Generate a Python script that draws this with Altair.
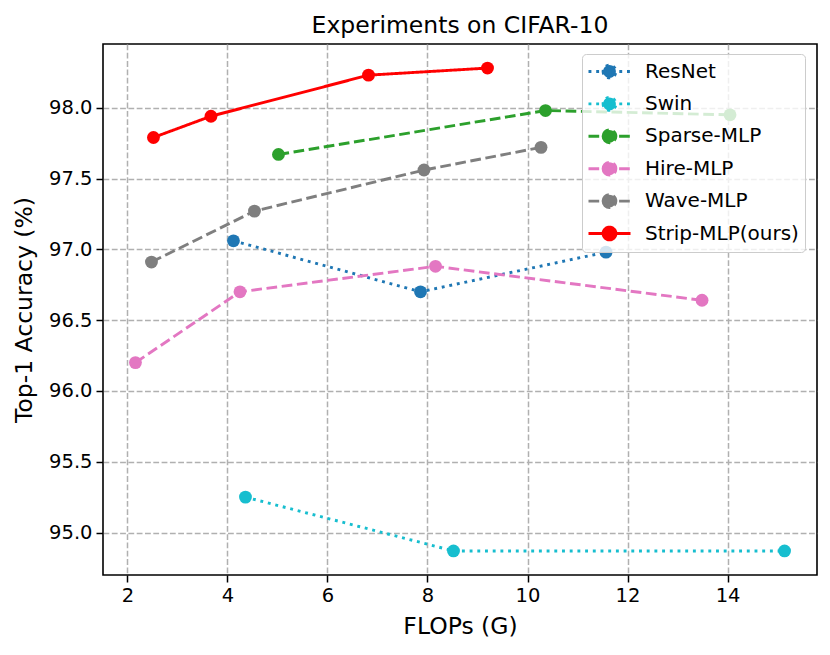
import altair as alt
import pandas as pd

models = ["ResNet", "Swin", "Sparse-MLP", "Hire-MLP", "Wave-MLP", "Strip-MLP(ours)"]
colors = ["#1f77b4", "#17becf", "#2ca02c", "#e377c2", "#7f7f7f", "#ff0000"]
dashes = [[2.9, 4.8], [2.9, 4.8], [10.7, 4.6], [10.7, 4.6], [10.7, 4.6], [1, 0]]

resnet_flops = [4.12, 7.86, 11.57]
resnet_acc = [97.06, 96.70, 96.98]
swin_flops = [4.36, 8.52, 15.14]
swin_acc = [95.25, 94.87, 94.87]
sparse_flops = [5.02, 10.36, 14.05]
sparse_acc = [97.67, 97.98, 97.95]
hire_flops = [2.16, 4.25, 8.16, 13.49]
hire_acc = [96.20, 96.70, 96.88, 96.64]
wave_flops = [2.48, 4.54, 7.93, 10.27]
wave_acc = [96.91, 97.27, 97.56, 97.72]
strip_flops = [2.52, 3.67, 6.82, 9.20]
strip_acc = [97.79, 97.94, 98.23, 98.28]

x_ticks = [2, 4, 6, 8, 10, 12, 14]
y_ticks = [95.0, 95.5, 96.0, 96.5, 97.0, 97.5, 98.0]

series = [
    ("ResNet", resnet_flops, resnet_acc),
    ("Swin", swin_flops, swin_acc),
    ("Sparse-MLP", sparse_flops, sparse_acc),
    ("Hire-MLP", hire_flops, hire_acc),
    ("Wave-MLP", wave_flops, wave_acc),
    ("Strip-MLP(ours)", strip_flops, strip_acc),
]
rows = []
for name, fx, ay in series:
    for f, a in zip(fx, ay):
        rows.append({"model": name, "flops": f, "acc": a})
df = pd.DataFrame(rows)

FONT = "DejaVu Sans"
# legend glyph: line with a dot in its middle (unit = sqrt(symbolSize)/2 px)
sym_path = ("M-2.1,0L2.1,0M-0.64,0A0.64,0.64,0,1,0,0.64,0"
            "A0.64,0.64,0,1,0,-0.64,0Z")

xenc = alt.X("flops:Q",
             scale=alt.Scale(domain=[1.511, 15.789], nice=False, zero=False),
             axis=alt.Axis(values=x_ticks, format="d", title="FLOPs (G)",
                           labelPadding=4, titlePadding=10))
yenc = alt.Y("acc:Q",
             scale=alt.Scale(domain=[94.70, 98.45], nice=False, zero=False),
             axis=alt.Axis(values=y_ticks, format=".1f",
                           title="Top-1 Accuracy (%)",
                           labelPadding=4, titlePadding=12))

legend = alt.Legend(
    title=None, orient="none", legendX=479, legendY=10,
    symbolType=sym_path, symbolSize=400, symbolStrokeWidth=2.9,
    symbolOpacity=1, symbolOffset=10,
    labelFont=FONT, labelFontSize=20, labelColor="black",
    labelOffset=24, rowPadding=7.4, padding=6,
    fillColor="rgba(255,255,255,0.8)", strokeColor="#cccccc",
    cornerRadius=4,
)

cscale = alt.Scale(domain=models, range=colors)

lines = alt.Chart(df).mark_line(strokeWidth=2.9).encode(
    x=xenc, y=yenc,
    color=alt.Color("model:N", scale=cscale, legend=legend),
    strokeDash=alt.StrokeDash("model:N",
                              scale=alt.Scale(domain=models, range=dashes),
                              legend=legend),
    order="flops:Q",
)
points = alt.Chart(df).mark_point(filled=True, size=165, opacity=1).encode(
    x=xenc, y=yenc,
    color=alt.Color("model:N", scale=cscale, legend=legend),
)

chart = alt.layer(lines, points).properties(
    width=714, height=531,
    background="white",
    title=alt.Title("Experiments on CIFAR-10", font=FONT, fontSize=23.5,
                    fontWeight="normal", color="black", anchor="middle",
                    baseline="bottom", frame="group", offset=7, dy=24),
    autosize=alt.AutoSizeParams(type="none"),
    padding={"left": 95, "top": 36, "right": 5, "bottom": 80},
).configure_view(
    stroke="black", strokeWidth=1.6
).configure_axis(
    labelFont=FONT, labelFontSize=19.5, labelColor="black",
    titleFont=FONT, titleFontSize=23.5, titleColor="black",
    titleFontWeight="normal",
    grid=True, gridColor="#b0b0b0", gridDash=[5.8, 2.5], gridWidth=1.5,
    domain=False, ticks=True, tickColor="black", tickSize=7, tickWidth=1.5,
)

chart.save("out.html", embed_options={"renderer": "svg", "actions": False})
